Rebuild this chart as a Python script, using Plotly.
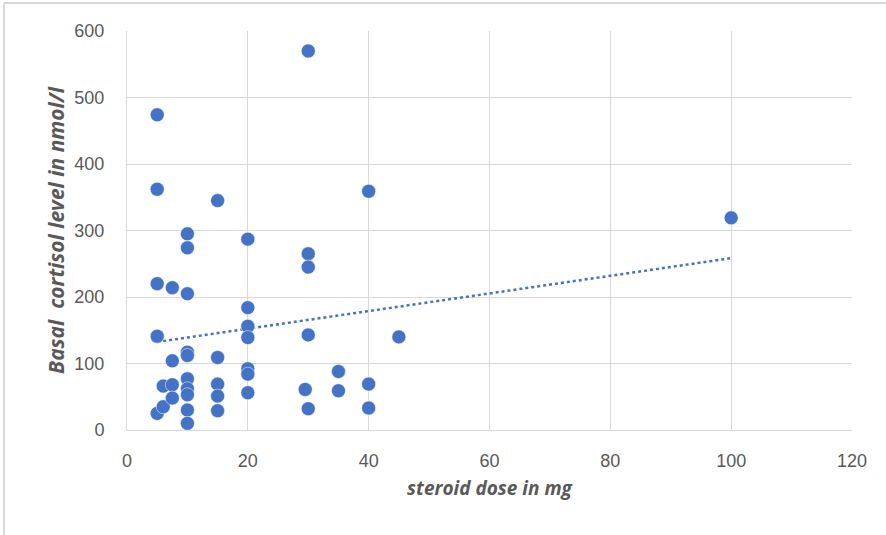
import numpy as np
import plotly.graph_objects as go

# steroid dose (mg) and basal cortisol (nmol/l)
dose = [5, 5, 5, 5, 5,
        6, 6,
        7.5, 7.5, 7.5, 7.5,
        10, 10, 10, 10, 10, 10, 10, 10, 10, 10,
        15, 15, 15, 15, 15,
        20, 20, 20, 20, 20, 20, 20,
        29.5, 30, 30, 30, 30, 30,
        35, 35,
        40, 40, 40,
        45,
        100]
cortisol = [474, 362, 220, 141, 25,
            66, 35,
            214, 104, 68, 48,
            295, 274, 205, 117, 112, 77, 62, 53, 30, 10,
            345, 109, 69, 51, 29,
            287, 184, 156, 139, 92, 84, 56,
            61, 570, 265, 245, 143, 32,
            88, 59,
            359, 69, 33,
            140,
            319]

x_ticks = [0, 20, 40, 60, 80, 100, 120]
y_ticks = [0, 100, 200, 300, 400, 500, 600]

blue = "#4472C4"
grid = "#d9d9d9"
gray_text = "#595959"

# linear trend line (least squares) over the data range
slope, intercept = np.polyfit(dose, cortisol, 1)
tx = np.array([min(dose), max(dose)])
ty = slope * tx + intercept

fig = go.Figure()
fig.add_trace(go.Scatter(
    x=tx, y=ty, mode="lines",
    line=dict(color=blue, width=2.5, dash="dot"),
    hoverinfo="skip", showlegend=False))
fig.add_trace(go.Scatter(
    x=dose, y=cortisol, mode="markers",
    marker=dict(color=blue, size=14, line=dict(color="#ffffff", width=0.5)),
    showlegend=False))

tick_font = dict(family="Liberation Sans Narrow, Arial Narrow, Liberation Sans, sans-serif",
                 size=18, color=gray_text)
xtitle_font = dict(family="Open Sans, Liberation Sans, sans-serif", size=19, color=gray_text)
ytitle_font = dict(family="Open Sans, Liberation Sans, sans-serif", size=21, color=gray_text)

fig.update_layout(
    width=886, height=535,
    margin=dict(l=127, r=34, t=31, b=105),
    paper_bgcolor="white", plot_bgcolor="white",
    xaxis=dict(range=[0, 120], tickvals=x_ticks, showgrid=True, gridcolor=grid,
               gridwidth=1, zeroline=False, showline=True, linecolor=grid, linewidth=1,
               tickfont=tick_font, ticklabelstandoff=14, fixedrange=True,
               title=dict(text="<b><i>steroid dose in mg</i></b>", font=xtitle_font, standoff=12)),
    yaxis=dict(range=[0, 600], tickvals=y_ticks, showgrid=True, gridcolor=grid,
               gridwidth=1, zeroline=False, showline=True, linecolor=grid, linewidth=1,
               tickfont=tick_font, ticklabelstandoff=18, fixedrange=True,
               title=dict(text="<b><i>Basal  cortisol level in nmol/l</i></b>", font=ytitle_font,
                          standoff=4)),
    shapes=[
        dict(type="line", xref="paper", yref="paper", x0=-0.1697, x1=1.2,
             y0=1.0702, y1=1.0702, line=dict(color="#d9d9d9", width=2)),
        dict(type="line", xref="paper", yref="paper", x0=-0.1697, x1=-0.1697,
             y0=1.0702, y1=-0.3, line=dict(color="#d9d9d9", width=2)),
    ],
)

fig.write_html("out.html")
